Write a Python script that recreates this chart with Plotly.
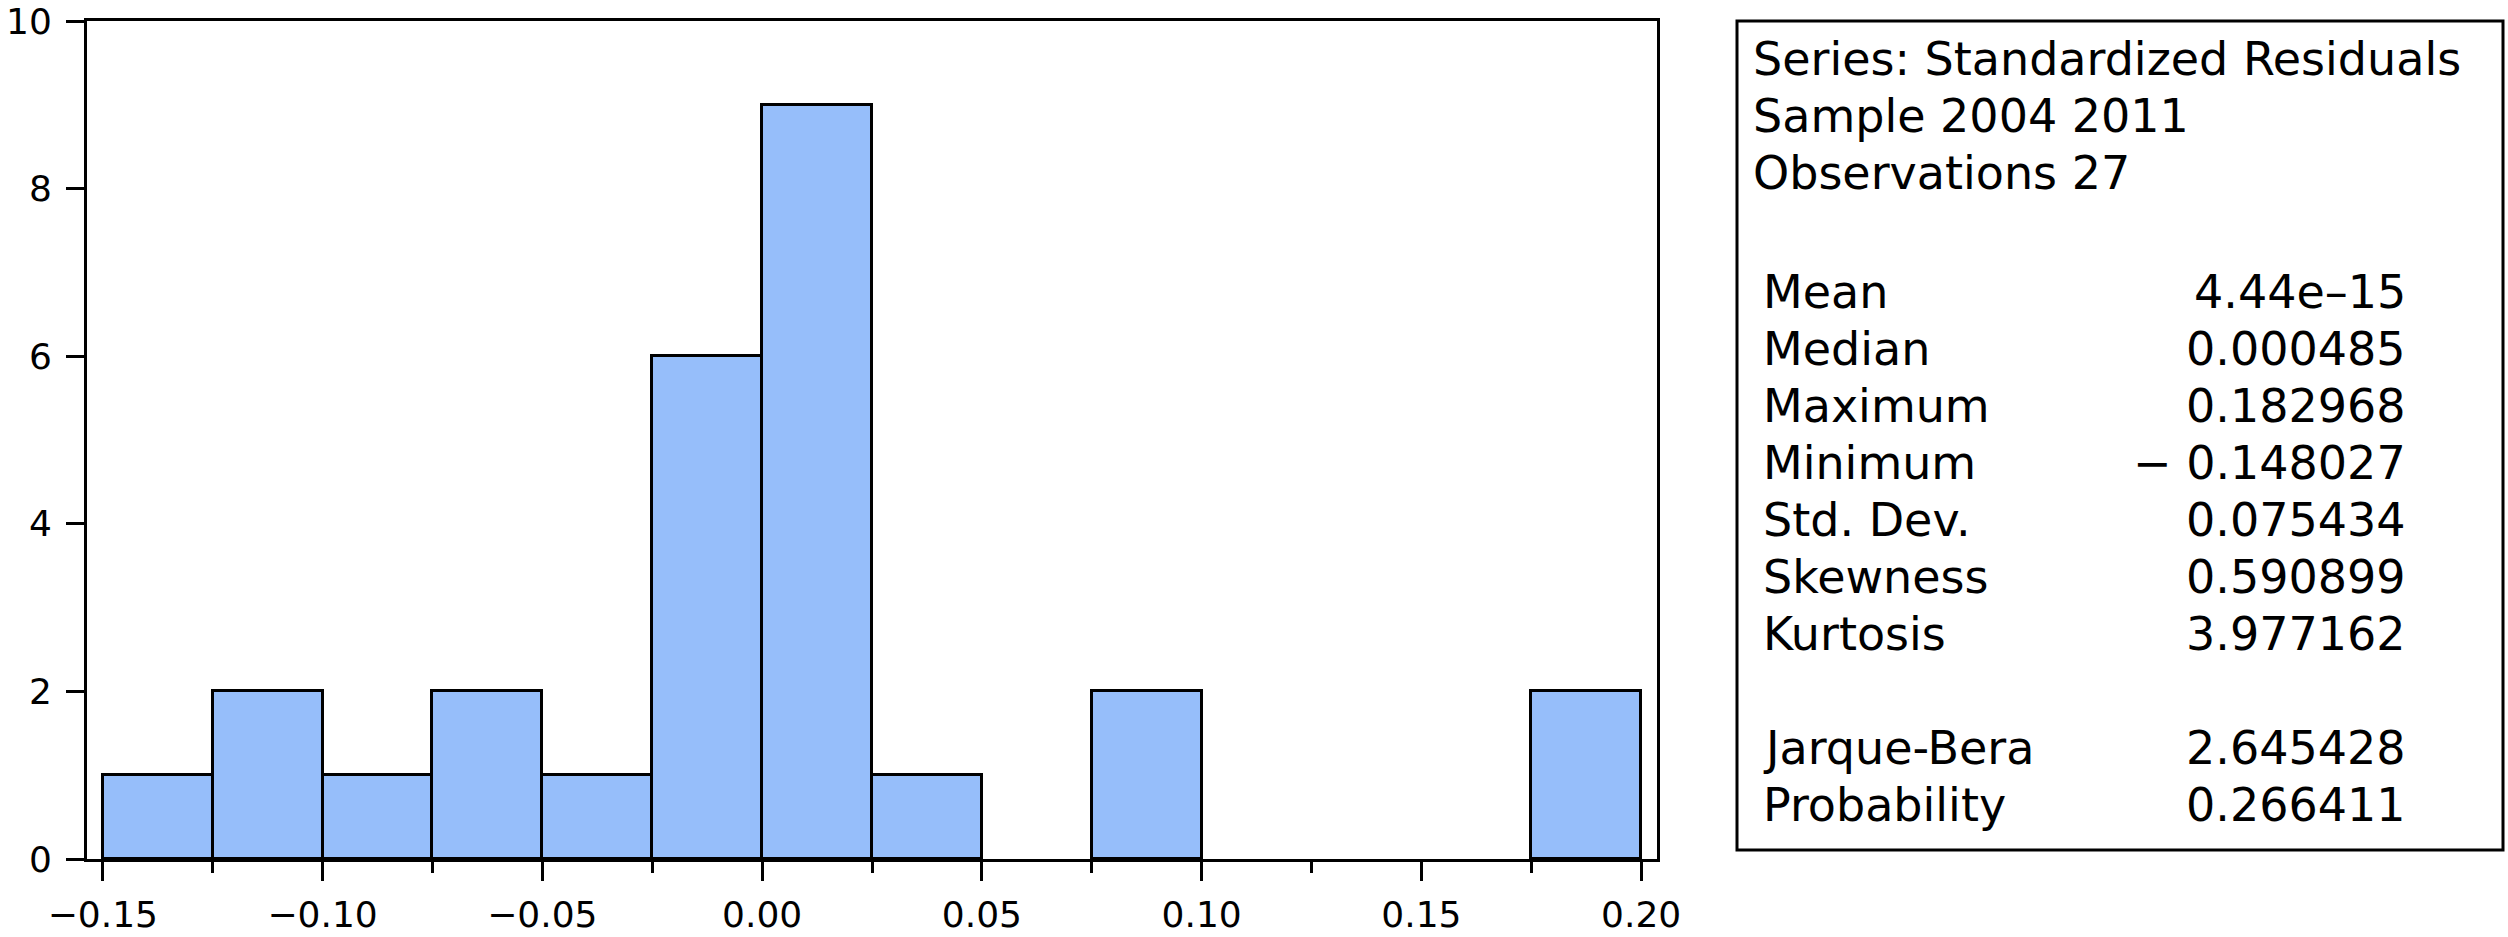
import plotly.graph_objects as go

# histogram of standardized residuals (bin width 0.025)
bin_left = [-0.150, -0.125, -0.100, -0.075, -0.050, -0.025, 0.000, 0.025, 0.050, 0.075,
            0.100, 0.125, 0.150, 0.175]
counts = [1, 2, 1, 2, 1, 6, 9, 1, 0, 2, 0, 0, 0, 2]
bin_width = 0.025

header_lines = ["Series: Standardized Residuals", "Sample 2004 2011", "Observations 27"]
stat_names = ["Mean", "Median", "Maximum", "Minimum", "Std. Dev.", "Skewness", "Kurtosis",
              "", "Jarque-Bera", "Probability"]
stat_values = ["4.44e\u201315", "0.000485", "0.182968", "\u2212 0.148027", "0.075434",
               "0.590899", "3.977162", "", "2.645428", "0.266411"]

x_ticks = [-0.15, -0.10, -0.05, 0.00, 0.05, 0.10, 0.15, 0.20]
x_ticktext = ["\u22120.15", "\u22120.10", "\u22120.05", "0.00", "0.05", "0.10", "0.15", "0.20"]
y_ticks = [0, 2, 4, 6, 8, 10]

W, H = 2508, 937
# plot frame in pixels
L, R, T, B = 87, 1657, 21, 859
FILL = "#96BEFA"
FONT = "DejaVu Sans, Liberation Sans, Arial, sans-serif"


def px(x):
    return (x - L) / (R - L)


def py(y):
    return (B - y) / (B - T)


fig = go.Figure()
fig.add_trace(
    go.Bar(
        x=[b + bin_width / 2 for b in bin_left],
        y=[c if c else None for c in counts],
        width=bin_width,
        marker={"color": FILL, "line": {"color": "black", "width": 3}},
        showlegend=False,
    )
)

axis_common = dict(
    ticks="outside",
    tickwidth=3,
    tickcolor="black",
    showline=True,
    linewidth=3,
    linecolor="black",
    mirror=True,
    showgrid=False,
    zeroline=False,
    automargin=False,
    ticklabeloverflow="allow",
    tickfont={"size": 36, "color": "black", "family": FONT},
)
fig.update_xaxes(
    range=[-0.1536, 0.2036],
    tickvals=x_ticks,
    ticktext=x_ticktext,
    ticklen=19,
    minor={"dtick": 0.025, "tick0": -0.15, "ticks": "outside", "ticklen": 11,
           "tickwidth": 3, "tickcolor": "black"},
    ticklabelstandoff=3,
    **axis_common,
)
fig.update_yaxes(
    range=[0, 10],
    tickvals=y_ticks,
    ticklen=18,
    ticklabelstandoff=7,
    **axis_common,
)

# stats box
fig.add_shape(
    type="rect", xref="paper", yref="paper",
    x0=px(1737), x1=px(2503), y0=py(850), y1=py(21),
    line={"color": "black", "width": 3}, fillcolor="white",
)

fs = 46
ann = []
for i, t in enumerate(header_lines):
    base = 76 + i * 57
    ann.append(dict(x=px(1751), y=py(base - 17), text=t, xanchor="left", yanchor="middle"))
for i, (n, v) in enumerate(zip(stat_names, stat_values)):
    if not n:
        continue
    base = 308 + i * 57
    ann.append(dict(x=px(1761), y=py(base - 16), text=n, xanchor="left", yanchor="middle"))
    ann.append(dict(x=px(2408), y=py(base - 16), text=v, xanchor="right", yanchor="middle"))
for a in ann:
    a.update(xref="paper", yref="paper", showarrow=False,
             font={"size": fs, "color": "black", "family": FONT})
fig.update_layout(annotations=ann)

fig.update_layout(
    width=W,
    height=H,
    margin={"l": L, "r": W - R, "t": T, "b": H - B},
    plot_bgcolor="white",
    paper_bgcolor="white",
    bargap=0,
)
# drop the default 8px page margin so the figure fills the window exactly
fig.write_html(
    "out.html",
    config={"displayModeBar": False},
    post_script="document.body.style.margin='0';",
)
